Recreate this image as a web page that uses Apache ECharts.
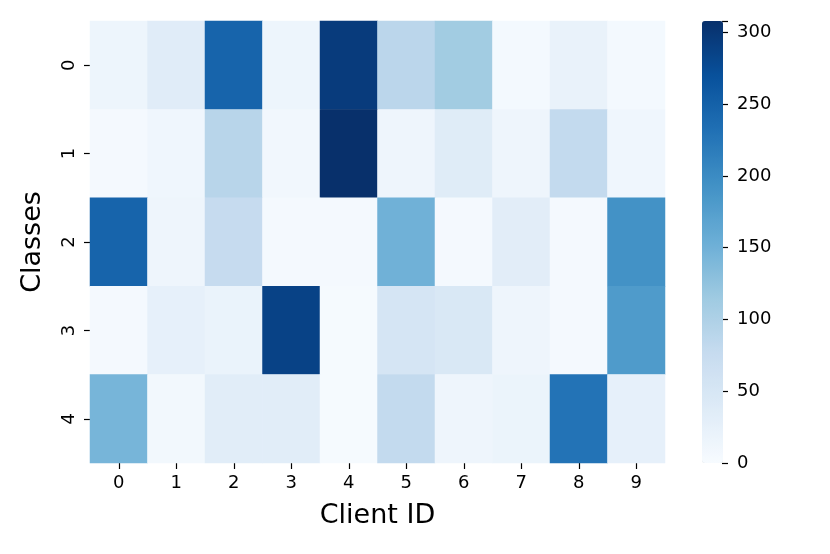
<!DOCTYPE html>
<html><head><meta charset="utf-8">
<script src="https://cdn.jsdelivr.net/npm/echarts@6/dist/echarts.min.js"></script>
<style>html,body{margin:0;padding:0;background:#fff}#c{width:830px;height:554px}</style>
</head><body><div id="c"></div>
<script>
const clients = ['0','1','2','3','4','5','6','7','8','9'];
const classes = ['0','1','2','3','4'];
const row0 = [15, 35, 247, 15, 295, 88, 112, 6, 22, 6];
const row1 = [5, 12, 90, 10, 308, 14, 37, 14, 80, 12];
const row2 = [247, 14, 77, 5, 4, 150, 4, 33, 4, 192];
const row3 = [4, 26, 20, 287, 3, 53, 46, 14, 4, 180];
const row4 = [145, 8, 34, 34, 3, 80, 14, 18, 229, 26];
const rows = [row0, row1, row2, row3, row4];
const colorbarTicks = [0, 50, 100, 150, 200, 250, 300];
const vmin = 0, vmax = 308;
const blues = ['#f7fbff','#deebf7','#c6dbef','#9ecae1','#6baed6','#4292c6','#2171b5','#08519c','#08306b'];

const data = [];
rows.forEach((r, yi) => r.forEach((v, xi) => data.push([xi, yi, v])));

const font = 'DejaVu Sans';
const chart = echarts.init(document.getElementById('c'), null, {renderer: 'canvas'});
chart.setOption({
  animation: false,
  textStyle: {fontFamily: font},
  grid: [
    {left: 90, right: 165, top: 21, bottom: 91},
    {left: 722, width: 1, top: 21, height: 442}
  ],
  xAxis: [
    {type: 'category', data: clients, gridIndex: 0,
     name: 'Client ID', nameLocation: 'middle', nameGap: 39,
     nameTextStyle: {fontSize: 27, color: '#000', fontFamily: font},
     axisLine: {show: false},
     axisTick: {show: true, alignWithLabel: true, length: 6, lineStyle: {color: '#000', width: 1.2}},
     axisLabel: {fontSize: 18, color: '#000', margin: 11, fontFamily: font},
     splitLine: {show: false}},
    {type: 'value', gridIndex: 1, min: 0, max: 1, show: false}
  ],
  yAxis: [
    {type: 'category', data: classes, gridIndex: 0, inverse: true,
     name: 'Classes', nameLocation: 'middle', nameGap: 44, nameRotate: 90,
     nameTextStyle: {fontSize: 27, color: '#000', fontFamily: font},
     axisLine: {show: false},
     axisTick: {show: true, alignWithLabel: true, length: 6, lineStyle: {color: '#000', width: 1.2}},
     axisLabel: {fontSize: 18, color: '#000', rotate: 90, margin: 12, fontFamily: font},
     splitLine: {show: false}},
    {type: 'value', gridIndex: 1, min: vmin, max: vmax, interval: 50, position: 'right',
     axisLine: {show: false},
     axisTick: {show: true, length: 6, lineStyle: {color: '#000', width: 1.2}},
     axisLabel: {fontSize: 18, color: '#000', margin: 14, fontFamily: font,
       formatter: v => colorbarTicks.includes(v) ? String(v) : ''},
     splitLine: {show: false}}
  ],
  visualMap: {
    type: 'continuous', min: vmin, max: vmax, seriesIndex: 0,
    calculable: false, showLabel: false, text: null,
    orient: 'vertical', left: 702, top: 21, itemWidth: 21, itemHeight: 442,
    padding: 0, hoverLink: false,
    inRange: {color: blues}
  },
  series: [
    {type: 'heatmap', data: data, xAxisIndex: 0, yAxisIndex: 0,
     itemStyle: {borderWidth: 0}, emphasis: {disabled: true}},
    {type: 'scatter', data: [], xAxisIndex: 1, yAxisIndex: 1}
  ]
});
</script></body></html>
